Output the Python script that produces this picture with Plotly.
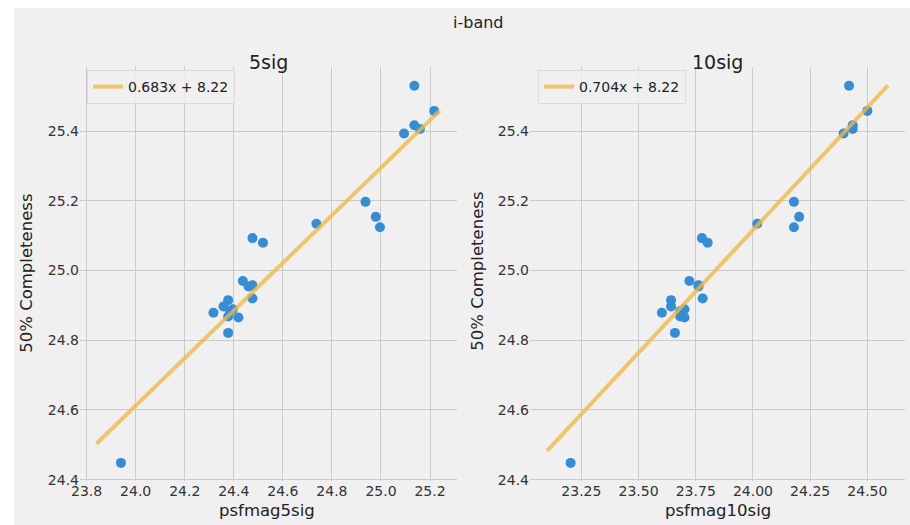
import plotly.graph_objects as go

# ---------------- data ----------------
completeness = [25.530, 25.458, 25.417, 25.406, 25.393, 25.197, 25.154, 25.124,
                25.134, 25.093, 25.080, 24.970, 24.954, 24.958, 24.920, 24.915,
                24.897, 24.889, 24.879, 24.868, 24.865, 24.821, 24.448, 24.884]
psfmag5sig = [25.136, 25.217, 25.136, 25.159, 25.094, 24.937, 24.979, 24.996,
              24.737, 24.476, 24.519, 24.437, 24.460, 24.476, 24.476, 24.377,
              24.358, 24.396, 24.317, 24.377, 24.419, 24.377, 23.940, 24.385]
psfmag10sig = [24.420, 24.500, 24.436, 24.436, 24.396, 24.179, 24.202, 24.179,
               24.019, 23.777, 23.802, 23.722, 23.762, 23.762, 23.780, 23.642,
               23.642, 23.701, 23.602, 23.682, 23.701, 23.659, 23.203, 23.682]

fit5_slope, fit5_icpt = 0.683, 8.22
fit10_slope, fit10_icpt = 0.704, 8.22
fit5_x = [23.84, 25.24]
fit10_x = [23.10, 24.59]

x5_ticks = [23.8, 24.0, 24.2, 24.4, 24.6, 24.8, 25.0, 25.2]
x10_ticks = [23.25, 23.50, 23.75, 24.00, 24.25, 24.50]
y_ticks = [24.4, 24.6, 24.8, 25.0, 25.2, 25.4]

# ---------------- geometry ----------------
W, H = 910, 525
ML, MR, MT, MB = 80, 5, 67, 43.5
PW = W - ML - MR
PH = H - MT - MB


def px(x):
    return (x - ML) / PW


def py(y):
    return (H - MB - y) / PH


FONT = "DejaVu Sans"
BG = "#f0f0f0"
GRID = "#cbcbcb"
BLUE = "#368dd3"
ORANGE = "rgba(240,182,72,0.78)"

fig = go.Figure()

fig.add_trace(go.Scatter(x=psfmag5sig, y=completeness, mode="markers",
                         marker=dict(color=BLUE, size=10), showlegend=False,
                         xaxis="x", yaxis="y"))
fig.add_trace(go.Scatter(x=fit5_x, y=[fit5_slope * v + fit5_icpt for v in fit5_x],
                         mode="lines", line=dict(color=ORANGE, width=4),
                         name=f"{fit5_slope:.3f}x + {fit5_icpt:.2f}",
                         xaxis="x", yaxis="y", legend="legend"))
fig.add_trace(go.Scatter(x=psfmag10sig, y=completeness, mode="markers",
                         marker=dict(color=BLUE, size=10), showlegend=False,
                         xaxis="x2", yaxis="y2"))
fig.add_trace(go.Scatter(x=fit10_x, y=[fit10_slope * v + fit10_icpt for v in fit10_x],
                         mode="lines", line=dict(color=ORANGE, width=4),
                         name=f"{fit10_slope:.3f}x + {fit10_icpt:.2f}",
                         xaxis="x2", yaxis="y2", legend="legend2"))

axis_common = dict(showgrid=True, gridcolor=GRID, gridwidth=1, zeroline=False,
                   showline=False, ticks="", tickfont=dict(family=FONT, size=14, color="#333333"))

fig.update_layout(
    width=W, height=H,
    margin=dict(l=ML, r=MR, t=MT, b=MB, pad=0),
    paper_bgcolor="white", plot_bgcolor=BG,
    font=dict(family=FONT, color="#222222"),
    xaxis=dict(domain=[0, 377 / PW], range=[23.773, 25.31], tickvals=x5_ticks,
               ticktext=[f"{v:.1f}" for v in x5_ticks], anchor="y", **axis_common),
    yaxis=dict(domain=[0, 1], range=[24.396, 25.584], tickvals=y_ticks,
               ticktext=[f"{v:.1f}" for v in y_ticks], anchor="x", **axis_common),
    xaxis2=dict(domain=[(530 - ML) / PW, 1], range=[23.0255, 24.6645], tickvals=x10_ticks,
                ticktext=[f"{v:.2f}" for v in x10_ticks], anchor="y2", **axis_common),
    yaxis2=dict(domain=[0, 1], range=[24.396, 25.584], tickvals=y_ticks,
                ticktext=[f"{v:.1f}" for v in y_ticks], anchor="x2", **axis_common),
    legend=dict(x=px(87), y=py(70), xanchor="left", yanchor="top",
                bgcolor="rgba(240,240,240,0.8)", bordercolor="#dcdcdc", borderwidth=1,
                font=dict(family=FONT, size=14, color="#222222"), itemwidth=30),
    legend2=dict(x=px(538), y=py(70), xanchor="left", yanchor="top",
                 bgcolor="rgba(240,240,240,0.8)", bordercolor="#dcdcdc", borderwidth=1,
                 font=dict(family=FONT, size=14, color="#222222"), itemwidth=30),
    shapes=[dict(type="rect", xref="paper", yref="paper", layer="below",
                 x0=px(14), x1=px(W + 5), y0=py(H + 5), y1=py(8),
                 fillcolor=BG, line=dict(width=0))],
)

ann = [
    dict(text="i-band", x=px(478), y=py(22), size=16, angle=0),
    dict(text="5sig", x=px(268.5), y=py(62), size=19, angle=0),
    dict(text="10sig", x=px(717.5), y=py(62), size=19, angle=0),
    dict(text="psfmag5sig", x=px(267), y=py(511), size=16.5, angle=0),
    dict(text="psfmag10sig", x=px(718), y=py(511), size=16.5, angle=0),
    dict(text="50% Completeness", x=px(27), y=py(274), size=16.5, angle=-90),
    dict(text="50% Completeness", x=px(478), y=py(272), size=16.5, angle=-90),
]
for a in ann:
    fig.add_annotation(text=a["text"], x=a["x"], y=a["y"], xref="paper", yref="paper",
                       showarrow=False, xanchor="center", yanchor="middle",
                       textangle=a["angle"],
                       font=dict(family=FONT, size=a["size"], color="#222222"))

fig.write_html("out.html", config={"displayModeBar": False})

# remove the browser's default 8px body margin so the figure sits at the page origin
with open("out.html", "r", encoding="utf-8") as f:
    html = f.read()
html = html.replace("<head>", "<head><style>html,body{margin:0;padding:0;overflow:hidden;}</style>", 1)
with open("out.html", "w", encoding="utf-8") as f:
    f.write(html)
